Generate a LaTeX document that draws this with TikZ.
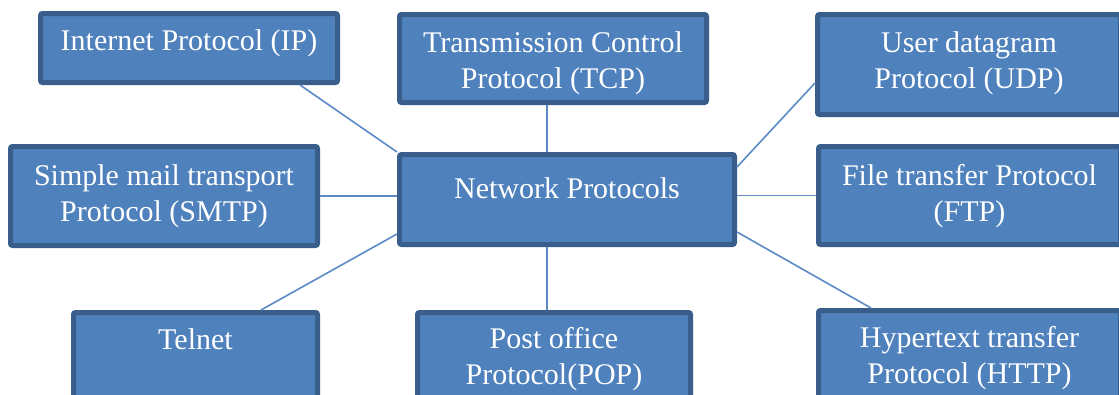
\documentclass[tikz,border=0pt]{standalone}
\usepackage{fontspec}
\setmainfont{Liberation Serif}
\definecolor{boxfill}{HTML}{4F81BD}
\definecolor{boxedge}{HTML}{3A5E8C}
\definecolor{wire}{HTML}{5B8AC6}
\begin{document}
\begin{tikzpicture}[x=1pt,y=-1pt,
  box/.style={draw=boxedge, fill=boxfill, line width=5pt, rounded corners=2pt,
    inner sep=0pt},
  txt/.style={text=white, align=center, anchor=base, inner sep=0pt,
    font=\fontsize{30}{36}\selectfont},
  wireline/.style={draw=wire, line width=1.6pt}]
\useasboundingbox (0,0) rectangle (1119,394);

% protocol boxes (centre, inner size)
\node[box, minimum width=297, minimum height=69]  (ip)     at (189,48)     {};
\node[box, minimum width=307, minimum height=88]  (tcp)    at (553,58.5)   {};
\node[box, minimum width=303, minimum height=100] (udp)    at (969,64.5)   {};
\node[box, minimum width=307, minimum height=99]  (smtp)   at (164,196)    {};
\node[box, minimum width=335, minimum height=90]  (net)    at (567,199.5)  {};
\node[box, minimum width=302, minimum height=98]  (ftp)    at (969.5,195.5){};
\node[box, minimum width=244, minimum height=85]  (telnet) at (195.5,355)  {};
\node[box, minimum width=273, minimum height=85]  (pop)    at (554,355)    {};
\node[box, minimum width=302, minimum height=87]  (http)   at (969.5,354)  {};

% labels; the base anchor sits on the last line, so two-line labels
% are placed one baselineskip (36pt) lower
\node[txt] (ip-t)     at ([yshift=-39pt]ip.north)     {Internet Protocol (IP)};
\node[txt] (tcp-t)    at ([yshift=-76pt]tcp.north)    {Transmission Control\\Protocol (TCP)};
\node[txt] (udp-t)    at ([yshift=-76pt]udp.north)    {User datagram\\Protocol (UDP)};
\node[txt] (smtp-t)   at ([yshift=-77pt]smtp.north)   {Simple mail transport\\Protocol (SMTP)};
\node[txt] (net-t)    at ([yshift=-46pt]net.north)    {Network Protocols};
\node[txt] (ftp-t)    at ([yshift=-77pt]ftp.north)    {File transfer Protocol\\(FTP)};
\node[txt] (telnet-t) at ([yshift=-39pt]telnet.north) {Telnet};
\node[txt] (pop-t)    at ([yshift=-74pt]pop.north)    {Post office\\Protocol(POP)};
\node[txt] (http-t)   at ([yshift=-75pt]http.north)   {Hypertext transfer\\Protocol (HTTP)};

% connectors from the hub
\coordinate (axis) at (547,0);
\draw[wireline] ([xshift=-40pt]ip.south east) -- (net.north west);
\draw[wireline] (tcp.south -| axis) -- (net.north -| axis);
\draw[wireline] ([yshift=-18.5pt]udp.west) -- ([yshift=32.5pt]net.east);
\draw[wireline] (smtp.east) -- (net.west |- smtp.east);
\draw[wireline] (ftp.west) -- (net.east |- ftp.west);
\draw[wireline] ([yshift=-34.5pt]net.west) -- ([xshift=65.5pt]telnet.north);
\draw[wireline] (net.south -| axis) -- (pop.north -| axis);
\draw[wireline] ([yshift=-32.5pt]net.east) -- ([xshift=55pt]http.north west);
\end{tikzpicture}
\end{document}
